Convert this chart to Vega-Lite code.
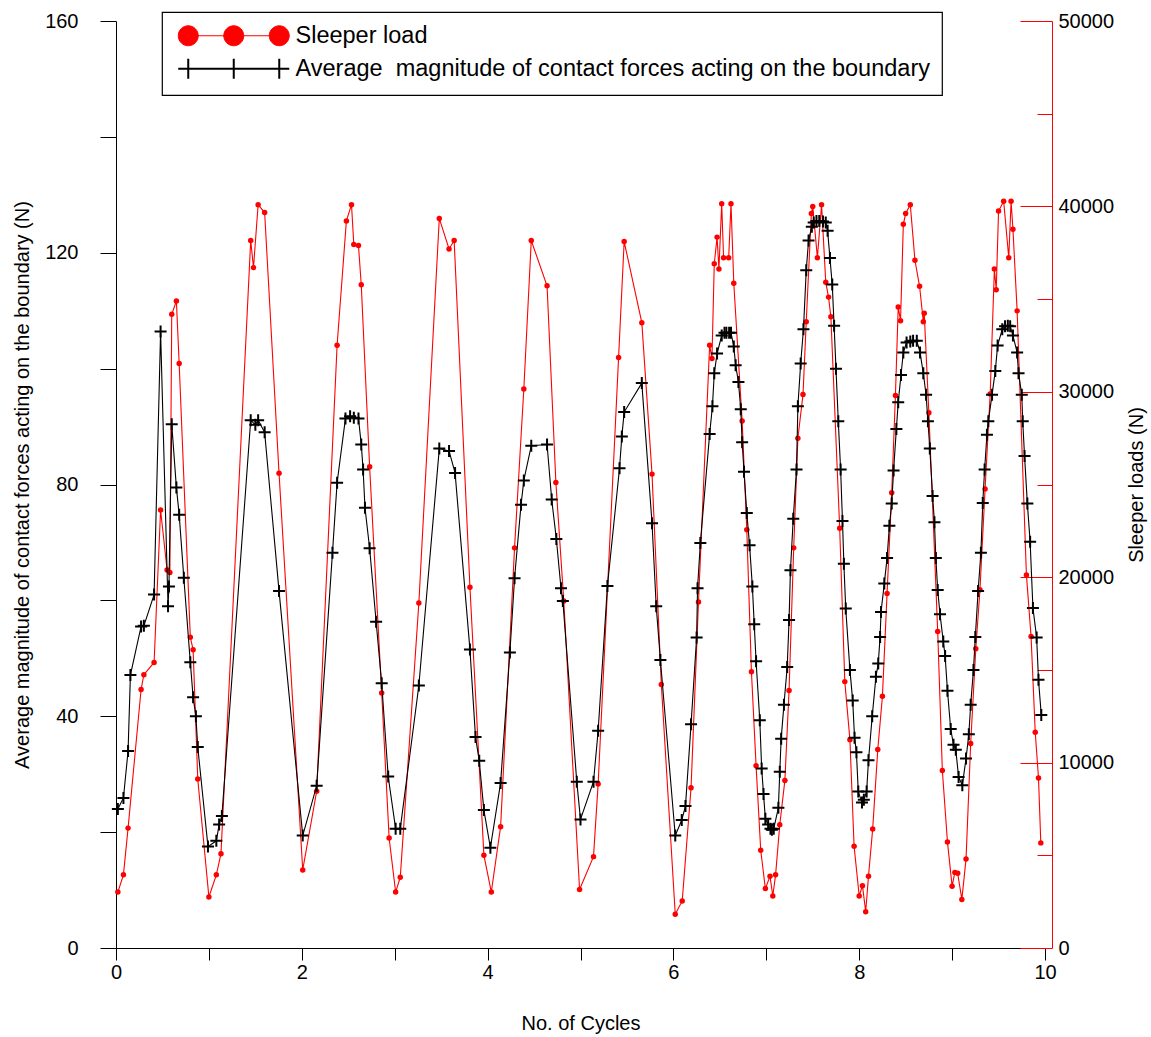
{
  "$schema": "https://vega.github.io/schema/vega-lite/v6.json",
  "width": 929,
  "height": 927,
  "autosize": {"type": "none"},
  "padding": {"left": 116, "top": 21, "right": 106, "bottom": 89},
  "background": "white",
  "config": {
    "view": {"stroke": null},
    "font": "Liberation Sans",
    "axis": {"grid": false, "labelFont": "Liberation Sans", "titleFont": "Liberation Sans", "labelColor": "black", "titleColor": "black", "titleFontWeight": "normal", "domainColor": "black", "tickColor": "black", "labelFontSize": 20, "titleFontSize": 20}
  },
  "datasets": {
    "contact": [
      {"cycle":0.02,"force":24.0},{"cycle":0.08,"force":25.9},{"cycle":0.13,"force":34.0},{"cycle":0.155,"force":47.1},{"cycle":0.27,"force":55.5},{"cycle":0.30,"force":55.6},{"cycle":0.41,"force":61.0},{"cycle":0.48,"force":106.4},{"cycle":0.56,"force":59.0},{"cycle":0.57,"force":62.4},{"cycle":0.60,"force":90.4},{"cycle":0.65,"force":79.5},{"cycle":0.68,"force":74.8},{"cycle":0.73,"force":63.9},{"cycle":0.80,"force":49.3},{"cycle":0.83,"force":43.3},{"cycle":0.86,"force":40.0},{"cycle":0.88,"force":34.7},{"cycle":0.99,"force":17.5},{"cycle":1.08,"force":18.5},{"cycle":1.11,"force":21.3},{"cycle":1.14,"force":22.8},
      {"cycle":1.45,"force":91.1},{"cycle":1.50,"force":90.3},{"cycle":1.53,"force":91.1},{"cycle":1.60,"force":89.0},{"cycle":1.755,"force":61.6},{"cycle":2.01,"force":19.4},{"cycle":2.16,"force":28.0},{"cycle":2.33,"force":68.2},{"cycle":2.38,"force":80.3},{"cycle":2.47,"force":91.4},
      {"cycle":2.52,"force":91.8},{"cycle":2.56,"force":91.5},{"cycle":2.61,"force":91.4},{"cycle":2.64,"force":86.9},{"cycle":2.66,"force":82.6},{"cycle":2.68,"force":76.0},{"cycle":2.73,"force":69.0},{"cycle":2.80,"force":56.3},{"cycle":2.86,"force":45.7},{"cycle":2.93,"force":29.6},{"cycle":3.01,"force":20.6},{"cycle":3.06,"force":20.6},{"cycle":3.26,"force":45.3},{"cycle":3.48,"force":86.2},{"cycle":3.585,"force":85.8},{"cycle":3.65,"force":82.0},{"cycle":3.81,"force":51.5},{"cycle":3.87,"force":36.4},{"cycle":3.91,"force":32.3},{"cycle":3.96,"force":23.8},{"cycle":4.03,"force":17.3},{"cycle":4.14,"force":28.5},{"cycle":4.24,"force":51.0},{"cycle":4.29,"force":63.8},{"cycle":4.36,"force":76.5},{"cycle":4.39,"force":80.7},{"cycle":4.47,"force":86.7},{"cycle":4.64,"force":86.9},{"cycle":4.69,"force":77.4},{"cycle":4.74,"force":70.6},{"cycle":4.79,"force":62.1},{"cycle":4.81,"force":59.9},{"cycle":4.96,"force":28.7},{"cycle":5.00,"force":22.2},
      {"cycle":5.14,"force":28.7},{"cycle":5.19,"force":37.5},{"cycle":5.29,"force":62.5},{"cycle":5.42,"force":82.8},{"cycle":5.445,"force":88.3},{"cycle":5.47,"force":92.5},{"cycle":5.66,"force":97.5},{"cycle":5.77,"force":73.3},{"cycle":5.815,"force":59.0},{"cycle":5.86,"force":49.7},{"cycle":6.02,"force":19.4},{"cycle":6.09,"force":22.1},{"cycle":6.13,"force":24.5},{"cycle":6.19,"force":38.6},{"cycle":6.25,"force":53.6},{"cycle":6.26,"force":62.1},{"cycle":6.29,"force":69.9},{"cycle":6.39,"force":88.7},{"cycle":6.42,"force":93.5},{"cycle":6.44,"force":99.2},{"cycle":6.47,"force":102.6},{"cycle":6.52,"force":105.7},{"cycle":6.55,"force":106.2},{"cycle":6.57,"force":106.2},{"cycle":6.60,"force":106.2},{"cycle":6.62,"force":106.2},{"cycle":6.65,"force":103.8},{"cycle":6.67,"force":100.6},{"cycle":6.70,"force":97.7},{"cycle":6.725,"force":93.0},{"cycle":6.74,"force":87.3},{"cycle":6.76,"force":82.2},{"cycle":6.79,"force":75.1},{"cycle":6.82,"force":69.5},{"cycle":6.85,"force":62.4},{"cycle":6.87,"force":55.9},{"cycle":6.89,"force":49.5},{"cycle":6.93,"force":39.3},{"cycle":6.95,"force":31.0},{"cycle":6.97,"force":26.6},{"cycle":6.99,"force":22.3},{"cycle":7.02,"force":21.3},{"cycle":7.045,"force":20.6},{"cycle":7.06,"force":20.4},{"cycle":7.08,"force":20.6},{"cycle":7.13,"force":24.2},{"cycle":7.145,"force":30.4},{"cycle":7.16,"force":36.1},{"cycle":7.19,"force":42.0},{"cycle":7.225,"force":48.5},{"cycle":7.245,"force":56.6},{"cycle":7.26,"force":65.2},{"cycle":7.29,"force":74.1},{"cycle":7.325,"force":82.6},{"cycle":7.34,"force":93.5},{"cycle":7.37,"force":100.9},{"cycle":7.40,"force":106.8},{"cycle":7.43,"force":117.0},{"cycle":7.455,"force":122.1},
      {"cycle":7.49,"force":124.5},{"cycle":7.51,"force":125.2},{"cycle":7.54,"force":125.5},{"cycle":7.57,"force":125.5},{"cycle":7.61,"force":125.4},{"cycle":7.64,"force":125.2},{"cycle":7.66,"force":123.8},{"cycle":7.685,"force":119.1},{"cycle":7.71,"force":114.5},{"cycle":7.73,"force":107.4},{"cycle":7.75,"force":100.0},{"cycle":7.775,"force":90.9},{"cycle":7.80,"force":82.6},{"cycle":7.82,"force":73.7},{"cycle":7.835,"force":66.3},{"cycle":7.855,"force":58.6},{"cycle":7.90,"force":48.0},{"cycle":7.93,"force":42.7},{"cycle":7.95,"force":36.3},{"cycle":7.97,"force":33.8},{"cycle":7.99,"force":27.0},{"cycle":8.03,"force":25.1},{"cycle":8.05,"force":25.6},{"cycle":8.08,"force":27.0},{"cycle":8.10,"force":32.4},{"cycle":8.14,"force":40.0},{"cycle":8.18,"force":46.8},{"cycle":8.205,"force":49.1},{"cycle":8.225,"force":53.7},{"cycle":8.235,"force":58.0},{"cycle":8.27,"force":62.9},{"cycle":8.30,"force":67.3},{"cycle":8.325,"force":72.9},{"cycle":8.35,"force":76.7},{"cycle":8.37,"force":82.4},{"cycle":8.40,"force":89.6},{"cycle":8.42,"force":94.2},{"cycle":8.45,"force":98.9},{"cycle":8.475,"force":102.8},{"cycle":8.51,"force":104.5},{"cycle":8.55,"force":104.7},{"cycle":8.58,"force":104.8},{"cycle":8.62,"force":104.8},{"cycle":8.655,"force":102.8},{"cycle":8.69,"force":99.2},{"cycle":8.72,"force":95.5},{"cycle":8.74,"force":90.9},{"cycle":8.76,"force":86.2},{"cycle":8.79,"force":78.0},{"cycle":8.81,"force":73.5},{"cycle":8.825,"force":67.3},{"cycle":8.845,"force":61.8},{"cycle":8.87,"force":57.6},{"cycle":8.905,"force":52.9},{"cycle":8.925,"force":50.4},{"cycle":8.95,"force":44.4},{"cycle":8.985,"force":37.8},{"cycle":9.015,"force":35.1},{"cycle":9.04,"force":34.2},{"cycle":9.07,"force":29.5},{"cycle":9.11,"force":28.1},{"cycle":9.15,"force":32.7},{"cycle":9.18,"force":36.9},{"cycle":9.20,"force":42.0},{"cycle":9.23,"force":48.0},{"cycle":9.25,"force":53.7},{"cycle":9.28,"force":61.6},{"cycle":9.31,"force":68.2},{"cycle":9.33,"force":76.8},{"cycle":9.35,"force":82.6},{"cycle":9.375,"force":88.6},{"cycle":9.39,"force":90.9},{"cycle":9.43,"force":95.5},{"cycle":9.465,"force":99.6},{"cycle":9.49,"force":104.0},{"cycle":9.54,"force":106.8},{"cycle":9.57,"force":107.3},{"cycle":9.60,"force":107.4},{"cycle":9.625,"force":107.3},{"cycle":9.655,"force":105.7},{"cycle":9.70,"force":102.8},{"cycle":9.715,"force":99.2},{"cycle":9.75,"force":95.5},{"cycle":9.76,"force":90.9},{"cycle":9.78,"force":84.9},{"cycle":9.81,"force":76.7},{"cycle":9.84,"force":70.1},{"cycle":9.87,"force":58.7},{"cycle":9.91,"force":53.6},{"cycle":9.93,"force":46.3},{"cycle":9.96,"force":40.2}
    ],
    "sleeper": [
      {"cycle":0.02,"load":3018},{"cycle":0.08,"load":3946},{"cycle":0.13,"load":6466},{"cycle":0.27,"load":13944},{"cycle":0.30,"load":14740},{"cycle":0.41,"load":15403},{"cycle":0.48,"load":23624},{"cycle":0.55,"load":20389},{"cycle":0.58,"load":20256},{"cycle":0.60,"load":34179},{"cycle":0.65,"load":34895},{"cycle":0.68,"load":31527},{"cycle":0.80,"load":16755},{"cycle":0.83,"load":16092},{"cycle":0.88,"load":9118},{"cycle":1.00,"load":2752},{"cycle":1.08,"load":3946},{"cycle":1.13,"load":5086},
      {"cycle":1.45,"load":38157},{"cycle":1.48,"load":36698},{"cycle":1.53,"load":40093},{"cycle":1.60,"load":39669},{"cycle":1.755,"load":25613},{"cycle":2.01,"load":4212},{"cycle":2.16,"load":8454},{"cycle":2.38,"load":32508},{"cycle":2.48,"load":39218},{"cycle":2.535,"load":40093},{"cycle":2.56,"load":37945},{"cycle":2.61,"load":37892},{"cycle":2.64,"load":35770},{"cycle":2.73,"load":25957},{"cycle":2.86,"load":13758},{"cycle":2.94,"load":5935},{"cycle":3.01,"load":3018},{"cycle":3.06,"load":3814},
      {"cycle":3.26,"load":18612},{"cycle":3.48,"load":39350},{"cycle":3.585,"load":37706},{"cycle":3.64,"load":38157},{"cycle":3.81,"load":19460},{"cycle":3.96,"load":5007},{"cycle":4.04,"load":3018},{"cycle":4.14,"load":6545},{"cycle":4.29,"load":21582},{"cycle":4.39,"load":30148},{"cycle":4.47,"load":38157},{"cycle":4.64,"load":35717},{"cycle":4.735,"load":25109},{"cycle":4.82,"load":18718},{"cycle":4.99,"load":3151},
      {"cycle":5.14,"load":4928},{"cycle":5.19,"load":8852},{"cycle":5.41,"load":31845},{"cycle":5.47,"load":38104},{"cycle":5.66,"load":33728},{"cycle":5.77,"load":25560},{"cycle":5.87,"load":14209},{"cycle":6.02,"load":1824},{"cycle":6.095,"load":2540},{"cycle":6.19,"load":8640},{"cycle":6.27,"load":18665},{"cycle":6.39,"load":32508},{"cycle":6.415,"load":31792},{"cycle":6.44,"load":36910},{"cycle":6.47,"load":38343},{"cycle":6.49,"load":36619},{"cycle":6.52,"load":40146},{"cycle":6.54,"load":37229},{"cycle":6.595,"load":37229},{"cycle":6.62,"load":40146},{"cycle":6.65,"load":35850},{"cycle":6.74,"load":28424},{"cycle":6.79,"load":22563},{"cycle":6.84,"load":14899},{"cycle":6.89,"load":9834},{"cycle":6.94,"load":5272},{"cycle":6.99,"load":3204},{"cycle":7.04,"load":3867},{"cycle":7.07,"load":2805},{"cycle":7.10,"load":3946},{"cycle":7.145,"load":6651},{"cycle":7.20,"load":9038},{"cycle":7.245,"load":13891},{"cycle":7.295,"load":21582},{"cycle":7.34,"load":27496},{"cycle":7.395,"load":29850},{"cycle":7.43,"load":33781},{"cycle":7.485,"load":39616},
      {"cycle":7.50,"load":40000},{"cycle":7.55,"load":37229},{"cycle":7.595,"load":40093},{"cycle":7.64,"load":35903},{"cycle":7.67,"load":35107},{"cycle":7.695,"load":34047},{"cycle":7.79,"load":22643},{"cycle":7.845,"load":14368},{"cycle":7.90,"load":11239},{"cycle":7.945,"load":5484},{"cycle":8.00,"load":2805},{"cycle":8.035,"load":3363},{"cycle":8.07,"load":1957},{"cycle":8.10,"load":3867},{"cycle":8.145,"load":6413},{"cycle":8.20,"load":10708},{"cycle":8.25,"load":13573},{"cycle":8.30,"load":19115},{"cycle":8.35,"load":24552},{"cycle":8.39,"load":29803},{"cycle":8.42,"load":34577},{"cycle":8.445,"load":33834},{"cycle":8.475,"load":39032},{"cycle":8.50,"load":39616},{"cycle":8.55,"load":40093},{"cycle":8.60,"load":37096},{"cycle":8.65,"load":35691},{"cycle":8.69,"load":33781},{"cycle":8.70,"load":34232},{"cycle":8.75,"load":28875},{"cycle":8.845,"load":17073},{"cycle":8.895,"load":9569},{"cycle":8.95,"load":5723},{"cycle":9.00,"load":3336},{"cycle":9.03,"load":4079},{"cycle":9.06,"load":4026},{"cycle":9.105,"load":2620},{"cycle":9.15,"load":4795},{"cycle":9.20,"load":11027},{"cycle":9.255,"load":16145},{"cycle":9.30,"load":19327},{"cycle":9.355,"load":24764},{"cycle":9.41,"load":29884},{"cycle":9.455,"load":36619},{"cycle":9.475,"load":35505},{"cycle":9.50,"load":39748},{"cycle":9.555,"load":40279},{"cycle":9.61,"load":37229},{"cycle":9.635,"load":40279},{"cycle":9.655,"load":38767},{"cycle":9.70,"load":34365},{"cycle":9.80,"load":20124},{"cycle":9.85,"load":16808},{"cycle":9.895,"load":11637},{"cycle":9.93,"load":9170},{"cycle":9.955,"load":5670}
    ]
  },
  "layer": [
    {
      "data": {"name": "sleeper"},
      "encoding": {
        "x": {"field": "cycle", "type": "quantitative", "scale": {"domain": [0, 10], "nice": false},
          "axis": {"title": "No. of Cycles", "format": "d", "values": [0,1,2,3,4,5,6,7,8,9,10], "labelExpr": "datum.value % 2 === 0 ? datum.label : ''", "tickSize": 12, "labelPadding": 2, "titlePadding": 31, "labelFlush": false}},
        "y": {"field": "load", "type": "quantitative", "scale": {"domain": [0, 50000], "nice": false},
          "axis": {"orient": "right", "title": "Sleeper loads (N)", "titleAngle": 270, "offset": 7, "format": "d", "values": [0,5000,10000,15000,20000,25000,30000,35000,40000,45000,50000], "labelExpr": "datum.value % 10000 === 0 ? datum.label : ''", "domainColor": "#ff0000", "tickColor": "#ff0000", "tickSize": {"condition": {"test": "datum.value % 10000 === 0", "value": -32}, "value": -15}, "labelPadding": 38, "titlePadding": 33, "labelFlush": false}}
      },
      "layer": [
        {"mark": {"type": "line", "strokeWidth": 1.1}, "encoding": {"color": {"datum": "Sleeper load", "type": "nominal",
          "scale": {"domain": ["Sleeper load", "Average\u00a0 magnitude of contact forces acting on the boundary"], "range": ["#ff0000", "#000000"]},
          "legend": {"title": null, "orient": "none", "legendX": 46, "legendY": -9, "padding": 12, "rowPadding": 6, "fillColor": "white", "strokeColor": "black", "cornerRadius": 0,
            "labelFont": "Liberation Sans", "labelFontSize": 23.5, "labelColor": "black", "labelLimit": 2000, "symbolSize": 400, "symbolOffset": 48, "labelOffset": 50,
            "encode": {
              "legend": {"update": {"strokeWidth": {"value": 1.2}}},
              "symbols": {"update": {
              "shape": {"signal": "datum.value === 'Sleeper load' ? 'M-5.55,0C-5.55,-0.55 -5.1,-1 -4.55,-1C-4,-1 -3.55,-0.55 -3.55,0C-3.55,0.55 -4,1 -4.55,1C-5.1,1 -5.55,0.55 -5.55,0ZM-1,0C-1,-0.55 -0.55,-1 0,-1C0.55,-1 1,-0.55 1,0C1,0.55 0.55,1 0,1C-0.55,1 -1,0.55 -1,0ZM3.55,0C3.55,-0.55 4,-1 4.55,-1C5.1,-1 5.55,-0.55 5.55,0C5.55,0.55 5.1,1 4.55,1C4,1 3.55,0.55 3.55,0ZM-4.55,0L4.55,0' : 'M-5.55,0L-3.55,0M-4.55,-1L-4.55,1M-1,0L1,0M0,-1L0,1M3.55,0L5.55,0M4.55,-1L4.55,1M-4.55,0L4.55,0'"},
              "fill": {"signal": "datum.value === 'Sleeper load' ? '#ff0000' : 'transparent'"},
              "stroke": {"signal": "datum.value === 'Sleeper load' ? '#ff0000' : '#000000'"},
              "strokeWidth": {"signal": "datum.value === 'Sleeper load' ? 1 : 2"},
              "size": {"value": 400},
              "opacity": {"value": 1},
              "fillOpacity": {"value": 1}
            }}}
          }}}},
        {"mark": {"type": "point", "shape": "circle", "filled": true, "size": 30, "color": "#ff0000", "opacity": 1}}
      ]
    },
    {
      "data": {"name": "contact"},
      "encoding": {
        "x": {"field": "cycle", "type": "quantitative", "scale": {"domain": [0, 10], "nice": false}},
        "y": {"field": "force", "type": "quantitative", "scale": {"domain": [0, 160], "nice": false},
          "axis": {"orient": "left", "title": "Average magnitude of contact forces acting on the boundary (N)", "values": [0,20,40,60,80,100,120,140,160], "labelExpr": "datum.value % 40 === 0 ? datum.label : ''", "tickSize": 16, "labelPadding": 22, "titlePadding": 12, "labelFlush": false}}
      },
      "layer": [
        {"mark": {"type": "line", "strokeWidth": 1.1}, "encoding": {"color": {"datum": "Average\u00a0 magnitude of contact forces acting on the boundary", "type": "nominal"}}},
        {"mark": {"type": "point", "shape": "M-1,0L1,0M0,-1L0,1", "filled": false, "size": 144, "color": "#000000", "strokeWidth": 2, "opacity": 1}}
      ]
    }
  ],
  "resolve": {"scale": {"y": "independent"}}
}
